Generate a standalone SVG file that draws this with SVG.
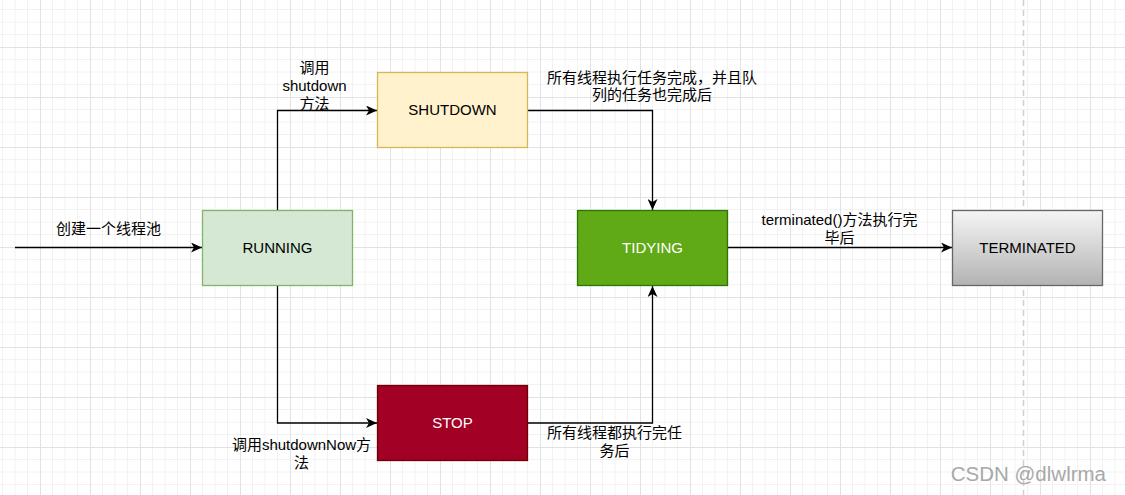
<svg xmlns="http://www.w3.org/2000/svg" width="1125" height="495" viewBox="0 0 1125 495">
<style>
  text { font-family: "Liberation Sans", "Noto Sans CJK SC", sans-serif; font-size: 15px; fill: #000; }
  .lbl { text-anchor: middle; }
  .node rect { stroke-width: 1.3; }
  .node text { text-anchor: middle; dominant-baseline: central; }
  .edge { fill: none; stroke: #000; stroke-width: 1.3; }
</style>
<defs>
  <pattern id="grid" patternUnits="userSpaceOnUse" x="40" y="47" width="50" height="50">
    <path d="M12.5 0V50M25 0V50M37.5 0V50M0 12.5H50M0 25H50M0 37.5H50" stroke="#f2f2f2" stroke-width="1" fill="none"/>
    <path d="M0.5 0V50M0 0.5H50" stroke="#e2e2e2" stroke-width="1" fill="none"/>
  </pattern>
  <linearGradient id="gTerm" x1="0" y1="0" x2="0" y2="1">
    <stop offset="0" stop-color="#f5f5f5"/>
    <stop offset="1" stop-color="#b3b3b3"/>
  </linearGradient>
  <marker id="arr" markerUnits="userSpaceOnUse" markerWidth="12" markerHeight="10" refX="11" refY="5" orient="auto" viewBox="0 0 12 10">
    <path d="M0 0 L11 5 L0 10 L3 5 Z" fill="#000"/>
  </marker>
</defs>
<rect width="1125" height="495" fill="#fff"/>
<rect width="1125" height="495" fill="url(#grid)"/>
<line x1="1023.5" y1="0" x2="1023.5" y2="495" stroke="#d0d0d0" stroke-width="1.5" stroke-dasharray="6 4"/>

<g id="connectors">
  <path class="edge" d="M15 247.5H202" marker-end="url(#arr)"/>
  <path class="edge" d="M277.5 210V110.5H377" marker-end="url(#arr)"/>
  <path class="edge" d="M277.5 285V423H377" marker-end="url(#arr)"/>
  <path class="edge" d="M527.5 110.5H652.5V210" marker-end="url(#arr)"/>
  <path class="edge" d="M527.5 423H652.5V286" marker-end="url(#arr)"/>
  <path class="edge" d="M727.5 247.5H952" marker-end="url(#arr)"/>
  <text class="lbl" x="108.5" y="234">创建一个线程池</text>
  <text class="lbl" x="314.5" y="73">调用</text>
  <text class="lbl" x="314.5" y="91">shutdown</text>
  <text class="lbl" x="314.5" y="109">方法</text>
  <text class="lbl" x="301.5" y="450">调用shutdownNow方</text>
  <text class="lbl" x="301.5" y="468">法</text>
  <text class="lbl" x="652" y="83">所有线程执行任务完成，并且队</text>
  <text class="lbl" x="652" y="100">列的任务也完成后</text>
  <text class="lbl" x="614.5" y="438">所有线程都执行完任</text>
  <text class="lbl" x="614.5" y="456">务后</text>
  <text class="lbl" x="839.5" y="225">terminated()方法执行完</text>
  <text class="lbl" x="839.5" y="243">毕后</text>
</g>

<g id="running" class="node">
  <rect x="202.5" y="210.5" width="150" height="75" fill="#d5e8d4" stroke="#82b366"/>
  <text x="277.5" y="247">RUNNING</text>
</g>
<g id="shutdown" class="node">
  <rect x="377.5" y="72.5" width="150" height="75" fill="#fff2cc" stroke="#d6b656"/>
  <text x="452.5" y="109">SHUTDOWN</text>
</g>
<g id="tidying" class="node">
  <rect x="577.5" y="210.5" width="150" height="75" fill="#60a917" stroke="#2d7600"/>
  <text x="652.5" y="247" style="fill:#fff">TIDYING</text>
</g>
<g id="stop" class="node">
  <rect x="377.5" y="385.5" width="150" height="75" fill="#a20025" stroke="#6f0000"/>
  <text x="452.5" y="422" style="fill:#fff">STOP</text>
</g>
<g id="terminated" class="node">
  <rect x="952.5" y="210.5" width="150" height="75" fill="url(#gTerm)" stroke="#666666"/>
  <text x="1027.5" y="247">TERMINATED</text>
</g>

<text x="1106" y="481" style="font-size:20.5px;fill:#a8a8a8;text-anchor:end">CSDN @dlwlrma</text>
</svg>
